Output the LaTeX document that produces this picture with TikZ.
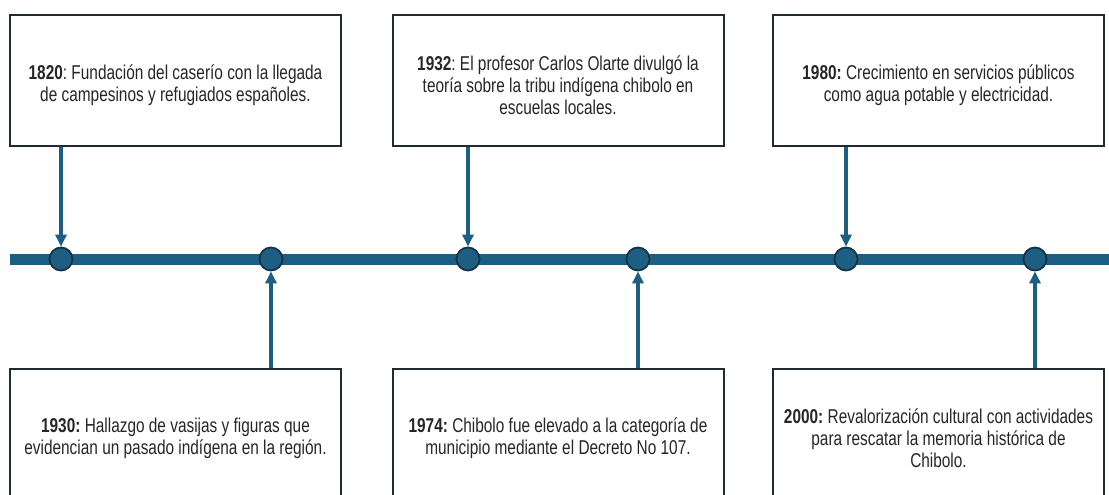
\documentclass[tikz,border=0pt]{standalone}
\usepackage{fontspec}
\setmainfont{Liberation Sans}[FakeStretch=0.77]
\usetikzlibrary{arrows.meta}
\definecolor{tline}{HTML}{1C5F82}
\definecolor{tedge}{HTML}{163347}
\definecolor{boxedge}{HTML}{1E2B33}
\tikzset{
  evbox/.style={draw=boxedge, line width=2pt, fill=white, minimum width=331pt, minimum height=131pt, inner sep=0pt},
  evtext/.style={align=center, inner sep=0pt, font=\fontsize{20}{22}\selectfont\frenchspacing, text=black!85},
  dot/.style={circle, fill=tline, draw=tedge, line width=1.8pt, minimum size=23pt, inner sep=0pt},
  conn/.style={draw=tline, line width=4pt, -{Triangle[width=11pt,length=12pt]}},
}
\begin{document}
\begin{tikzpicture}[x=1pt,y=-1pt]
\useasboundingbox (0,0) rectangle (1109,495);
\fill[white] (0,0) rectangle (1109,495);
\clip (0,0) rectangle (1109,495);
\coordinate (L) at (10,259);
\coordinate (R) at (1109,259);
\draw[tline, line width=11pt] (L) -- (R);
\node[dot] (c1) at (61,259) {};
\node[dot] (c2) at (271,259) {};
\node[dot] (c3) at (468,259) {};
\node[dot] (c4) at (638,259) {};
\node[dot] (c5) at (846,259) {};
\node[dot] (c6) at (1035,259) {};
\node[evbox] (b1) at (175.5,80.5) {};
\node[evbox] (b2) at (558,80.5) {};
\node[evbox] (b3) at (938.5,80.5) {};
\node[evbox] (b4) at (175.5,434.5) {};
\node[evbox] (b5) at (558,434.5) {};
\node[evbox] (b6) at (938.5,434.5) {};
\node[evtext, yshift=-5pt] (t1) at (b1) {\textbf{1820}: Fundación del caserío con la llegada\\de campesinos y refugiados españoles.};
\node[evtext, yshift=-5pt] (t2) at (b2) {\textbf{1932}: El profesor Carlos Olarte divulgó la\\teoría sobre la tribu indígena chibolo en\\escuelas locales.};
\node[evtext, yshift=-5pt] (t3) at (b3) {\textbf{1980:} Crecimiento en servicios públicos\\como agua potable y electricidad.};
\node[evtext, yshift=-4pt] (t4) at (b4) {\textbf{1930:} Hallazgo de vasijas y figuras que\\evidencian un pasado indígena en la región.};
\node[evtext, yshift=-4pt] (t5) at (b5) {\textbf{1974:} Chibolo fue elevado a la categoría de\\municipio mediante el Decreto No 107.};
\node[evtext, yshift=-4pt] (t6) at (b6) {\textbf{2000:} Revalorización cultural con actividades\\para rescatar la memoria histórica de\\Chibolo.};
\draw[conn] (b1.south -| c1) -- (c1.north);
\draw[conn] (b2.south -| c3) -- (c3.north);
\draw[conn] (b3.south -| c5) -- (c5.north);
\draw[conn] (b4.north -| c2) -- (c2.south);
\draw[conn] (b5.north -| c4) -- (c4.south);
\draw[conn] (b6.north -| c6) -- (c6.south);
\end{tikzpicture}
\end{document}
